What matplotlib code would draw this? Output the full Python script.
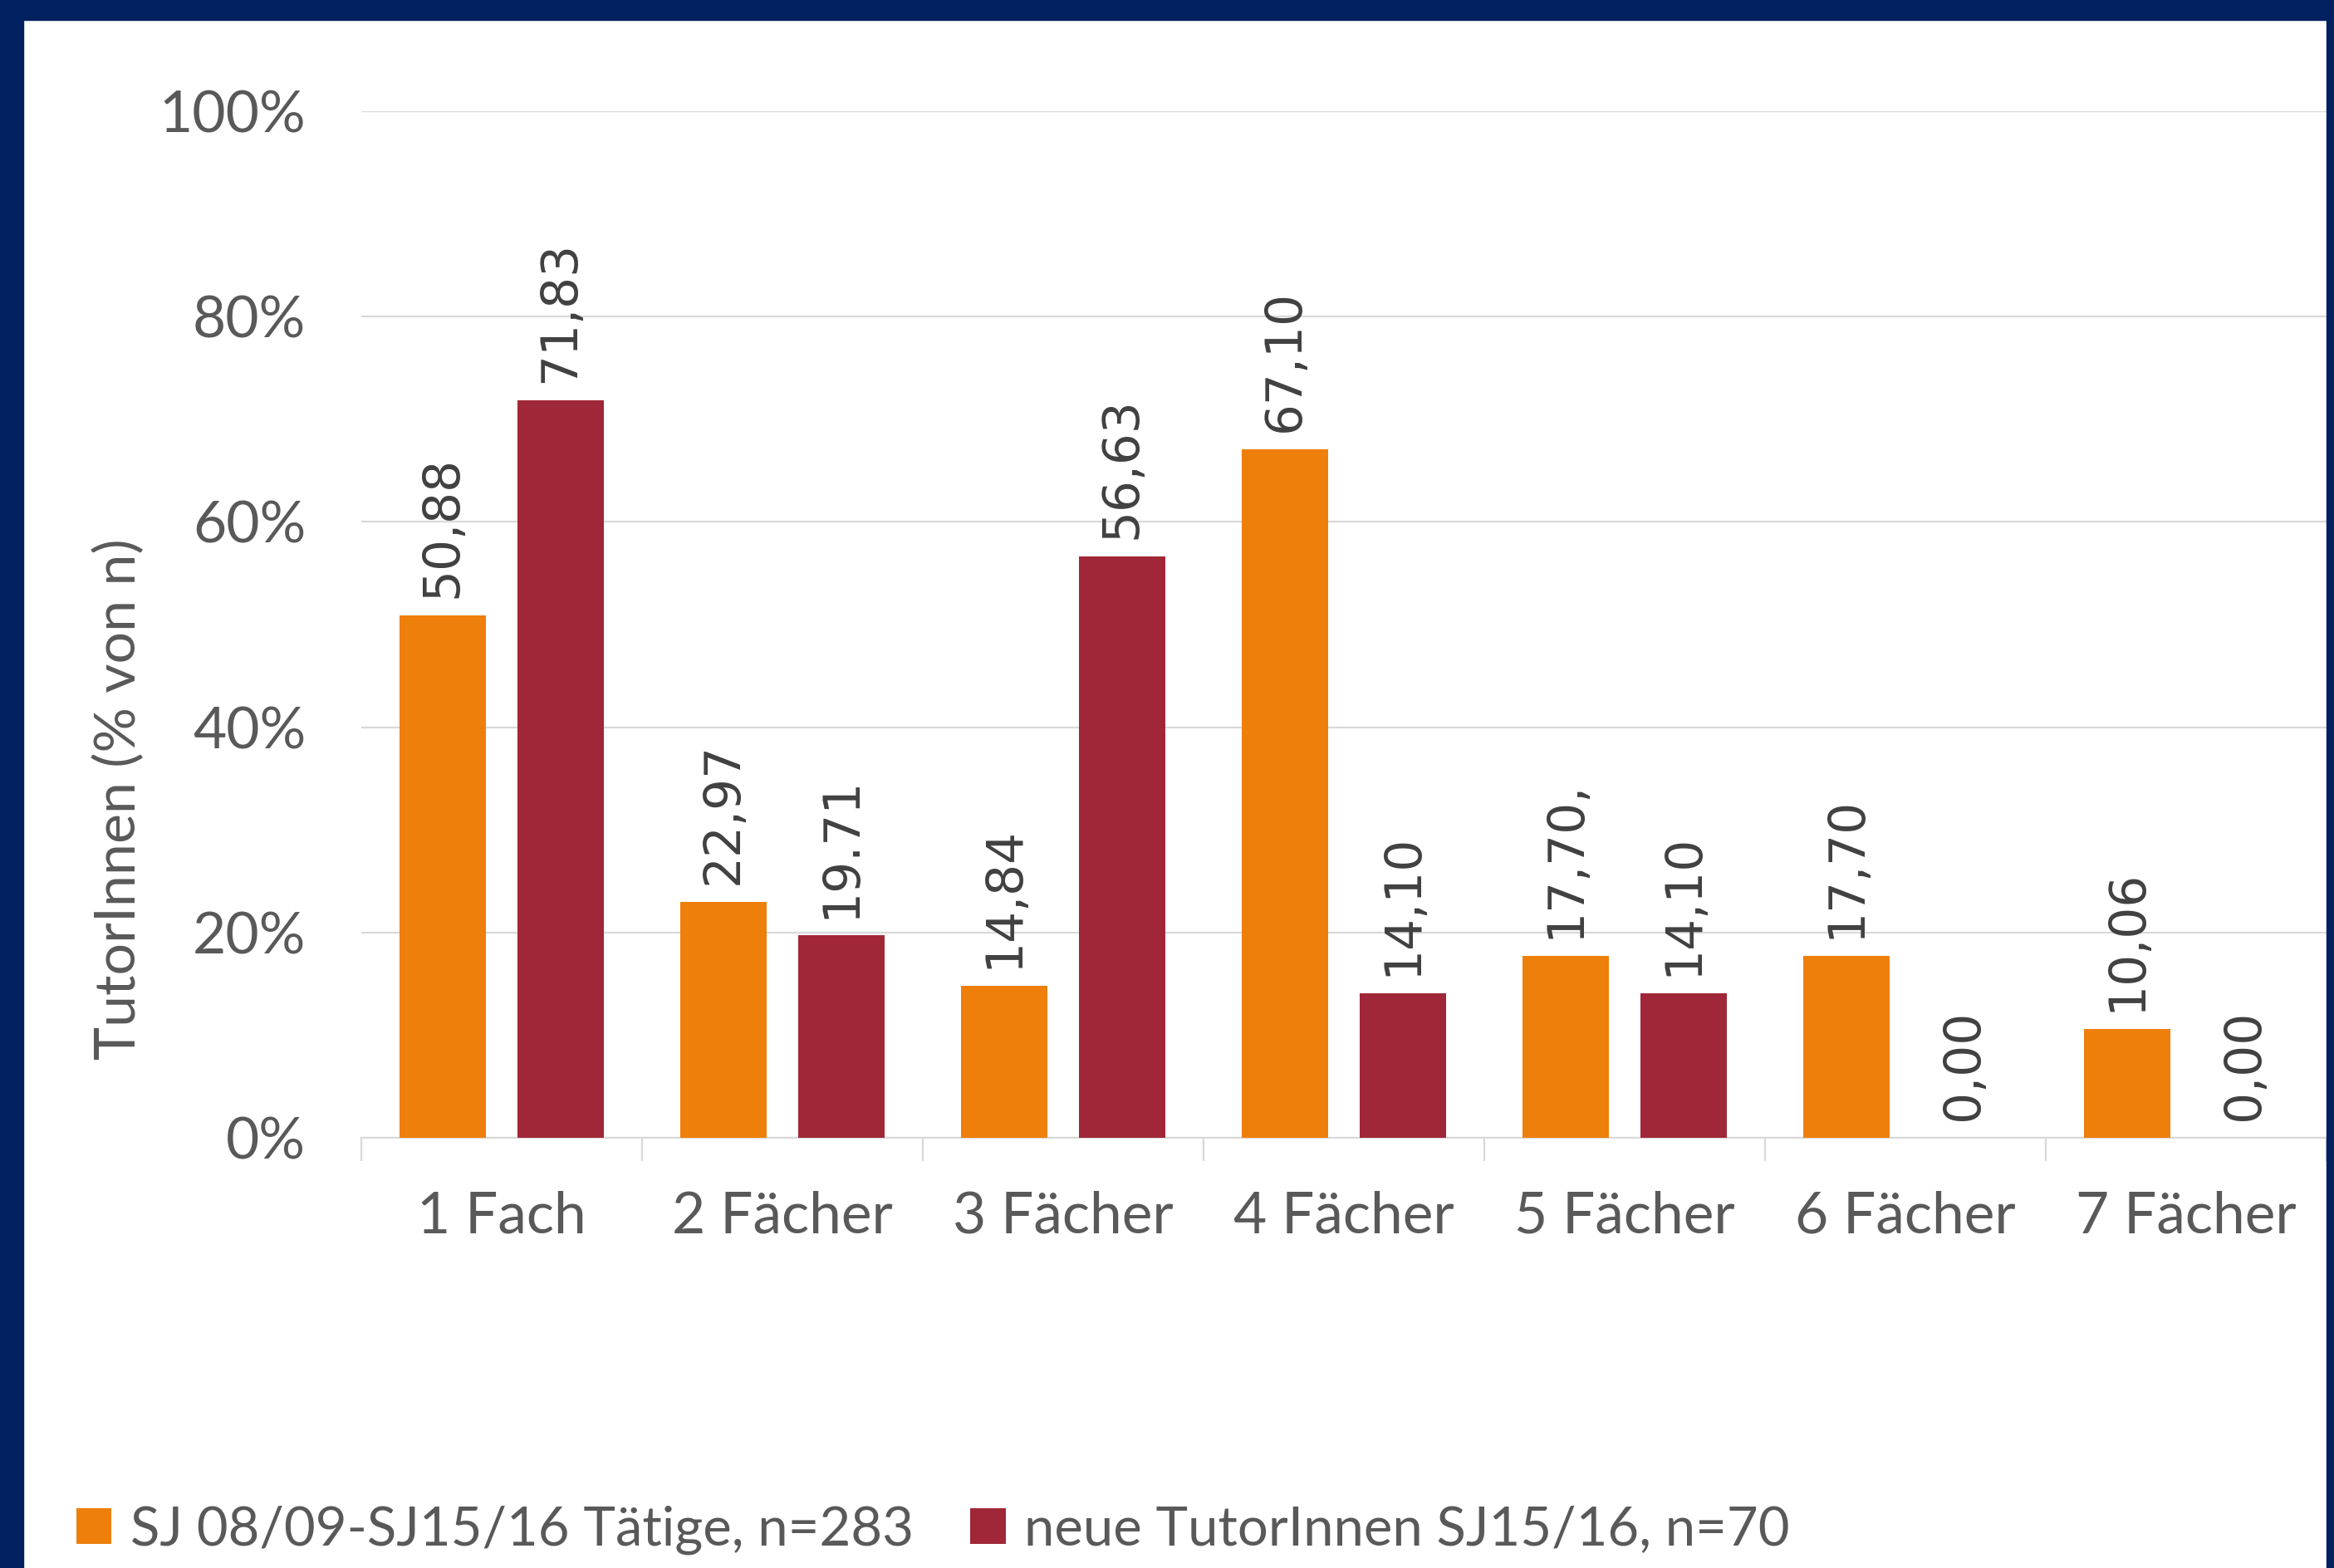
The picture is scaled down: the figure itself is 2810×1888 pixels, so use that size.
import matplotlib
matplotlib.use("Agg")
import matplotlib.pyplot as plt
from matplotlib.patches import Rectangle, Patch
from matplotlib.ticker import FuncFormatter, FixedLocator
import numpy as np

categories = ["1 Fach", "2 Fächer", "3 Fächer", "4 Fächer", "5 Fächer", "6 Fächer", "7 Fächer"]
series_names = ["SJ 08/09-SJ15/16 Tätige, n=283", "neue TutorInnen SJ15/16, n=70"]
orange_values = [50.88, 22.97, 14.84, 67.10, 17.70, 17.70, 10.6]
red_values = [71.83, 19.71, 56.63, 14.10, 14.10, 0.00, 0.00]
orange_labels = ["50,88", "22,97", "14,84", "67,10", "17,70,", "17,70", "10,06"]
red_labels = ["71,83", "19.71", "56,63", "14,10", "14,10", "0,00", "0,00"]
y_ticks = [0, 20, 40, 60, 80, 100]

ORANGE = "#EE7F0B"
RED = "#A02737"
NAVY = "#002060"
GRID = "#D9D9D9"
TXT = "#595959"
LBL = "#404040"
SANS = ["Lato", "DejaVu Sans"]

W, H = 2810, 1888
fig = plt.figure(figsize=(W / 100, H / 100), dpi=100)
fig.patch.set_facecolor("white")

ax = fig.add_axes([435 / W, (H - 1370) / H, (2801 - 435) / W, (1370 - 134) / H])
x = np.arange(len(categories))
bw = 0.31
off = 0.21
b1 = ax.bar(x - off, orange_values, bw, color=ORANGE, zorder=3)
b2 = ax.bar(x + off, red_values, bw, color=RED, zorder=3)

for bars, labels in ((b1, orange_labels), (b2, red_labels)):
    for rect, lab in zip(bars, labels):
        ax.annotate(lab, (rect.get_x() + rect.get_width() / 2, rect.get_height()),
                    xytext=(0, 15), textcoords="offset points", rotation=90,
                    ha="center", va="bottom", fontsize=43, color=LBL,
                    family="DejaVu Sans", zorder=4)

ax.set_xlim(-0.5, len(categories) - 0.5)
ax.set_ylim(0, 100)
ax.set_yticks(y_ticks)
ax.yaxis.set_major_formatter(FuncFormatter(lambda v, p: f"{int(v)}%"))
ax.set_xticks(x)
ax.set_xticklabels(categories)
ax.xaxis.set_minor_locator(FixedLocator(np.arange(-0.5, len(categories), 1.0)))
ax.tick_params(axis="x", which="major", length=0, pad=46, labelsize=50, labelcolor=TXT)
ax.tick_params(axis="x", which="minor", length=20, width=1.6, color=GRID)
ax.tick_params(axis="y", length=0, pad=48, labelsize=50, labelcolor=TXT)
for lab in ax.get_xticklabels() + ax.get_yticklabels():
    lab.set_family(SANS)

ax.grid(axis="y", color=GRID, linewidth=1.6, zorder=0)
for s in ("left", "right", "top"):
    ax.spines[s].set_visible(False)
ax.spines["bottom"].set_color(GRID)
ax.spines["bottom"].set_linewidth(1.6)

ax.set_ylabel("TutorInnen (% von n)", fontsize=49, color=TXT, family=SANS)
ax.yaxis.set_label_coords(-0.11, 0.33)

handles = [Patch(facecolor=ORANGE), Patch(facecolor=RED)]
fig.legend(handles, series_names, loc="center left", bbox_to_anchor=(92 / W, 46 / H),
           ncol=2, frameon=False, prop={"family": SANS, "size": 47},
           labelcolor=TXT, handlelength=0.65, handleheight=0.65,
           handletextpad=0.34, columnspacing=1.05, borderaxespad=0, borderpad=0)

# navy frame
fig.patches.append(Rectangle((0, 0), 28 / W, 1, transform=fig.transFigure, color=NAVY, zorder=10))
fig.patches.append(Rectangle((0, 1 - 24 / H), 1, 24 / H, transform=fig.transFigure, color=NAVY, zorder=10))
fig.patches.append(Rectangle((2801 / W, 0), 9 / W, 1, transform=fig.transFigure, color=NAVY, zorder=10))

fig.savefig("out.png", dpi=100)
